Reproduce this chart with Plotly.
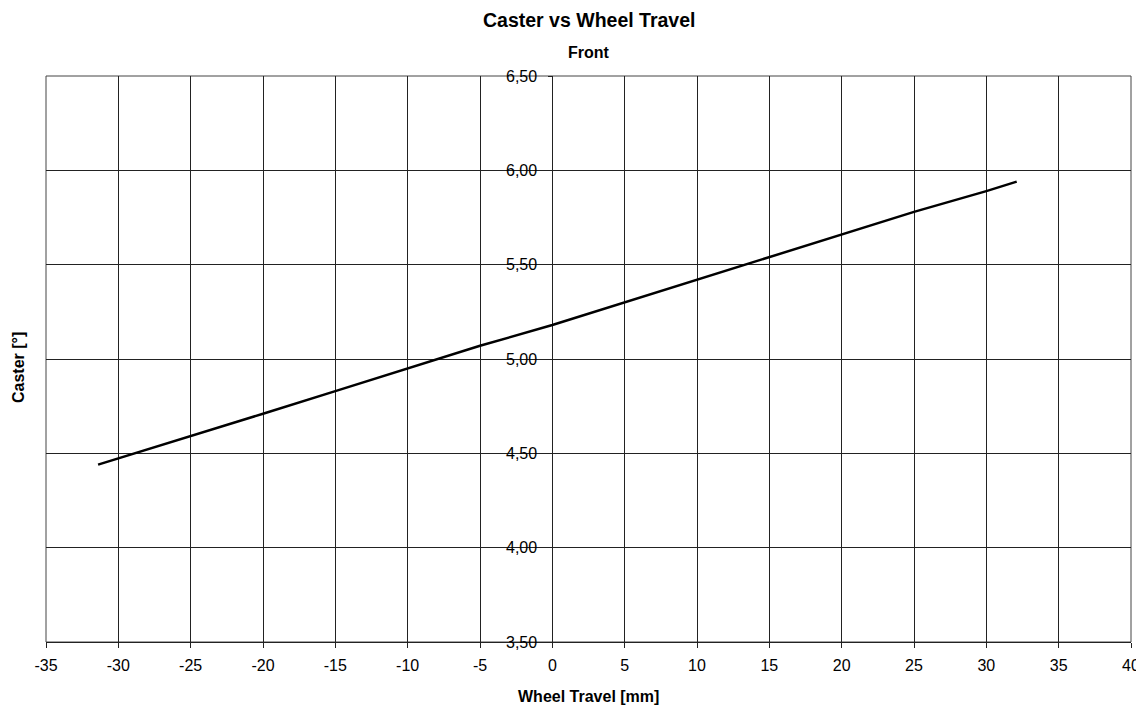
import plotly.graph_objects as go

# wheel travel [mm] and caster [deg]
travel = [-31.4, -25, -20, -15, -10, -5, 0, 5, 10, 15, 20, 25, 30, 32.1]
caster = [4.44, 4.59, 4.71, 4.83, 4.95, 5.07, 5.18, 5.30, 5.42, 5.54, 5.66, 5.78, 5.89, 5.94]

x_ticks = list(range(-35, 41, 5))
x_labels = [str(v) for v in x_ticks]  # plain hyphen minus like the original
y_ticks = [3.5, 4.0, 4.5, 5.0, 5.5, 6.0, 6.5]
y_labels = ['3,50', '4,00', '4,50', '5,00', '5,50', '6,00', '6,50']

fig = go.Figure()
fig.add_trace(go.Scatter(x=travel, y=caster, mode='lines',
                         line=dict(color='black', width=2.5), showlegend=False))

# the page adds an 8px body margin, so margins are shifted by 8px
font = dict(family='Liberation Sans, Arial', color='black')
fig.update_layout(
    width=1144, height=706,
    margin=dict(l=38, r=21, t=68, b=72, autoexpand=False),
    paper_bgcolor='white', plot_bgcolor='white',
    font=dict(family='Liberation Sans, Arial', size=16, color='black'),
    xaxis=dict(range=[-35, 40], tickvals=x_ticks, ticktext=x_labels,
               showgrid=True, gridcolor='#222', gridwidth=1, zeroline=False,
               showline=True, linecolor='#222', linewidth=1,
               ticks='outside', ticklen=5, tickcolor='#222',
               ticklabelstandoff=4,
               tickfont=dict(size=16), automargin=False),
    yaxis=dict(range=[3.5, 6.5], tickvals=y_ticks, ticktext=y_labels,
               anchor='free', position=35 / 75, showgrid=True,
               gridcolor='#222', gridwidth=1, zeroline=False,
               showline=False,
               ticks='outside', ticklen=4, tickcolor='#222',
               ticklabelstandoff=8,
               tickfont=dict(size=16), automargin=False),
    annotations=[
        dict(text='<b>Caster vs Wheel Travel</b>', x=0.5, y=1, xref='paper',
             yref='paper', yanchor='middle', yshift=56, showarrow=False,
             font=dict(size=19.5, **font)),
        dict(text='<b>Front</b>', x=0.5, y=1, xref='paper', yref='paper',
             yanchor='middle', yshift=24, showarrow=False,
             font=dict(size=16, **font)),
        dict(text='<b>Wheel Travel [mm]</b>', x=0.5, y=0, xref='paper', yref='paper',
             yanchor='middle', yshift=-54, showarrow=False,
             font=dict(size=16, **font)),
        dict(text='<b>Caster [°]</b>', x=0, y=0.5, xref='paper', yref='paper',
             xanchor='center', xshift=-28, yshift=-9, textangle=-90,
             showarrow=False, font=dict(size=16, **font)),
    ],
    # frame round the plot area (grid lines at the edges)
    shapes=[dict(type='rect', xref='paper', yref='paper', x0=0, y0=0, x1=1, y1=1,
                 line=dict(color='#444', width=1), layer='below')],
)

fig.write_html("out.html")
